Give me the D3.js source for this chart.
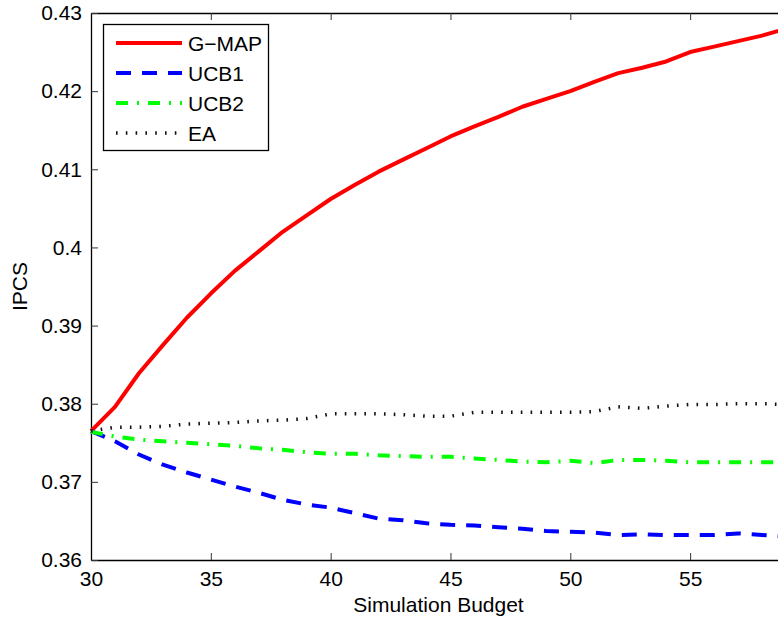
<!DOCTYPE html>
<html><head><meta charset="utf-8">
<script src="https://cdn.jsdelivr.net/npm/d3@7/dist/d3.min.js"></script>
<style>
html,body{margin:0;padding:0;background:#fff;}
svg{display:block;font-family:"Liberation Sans",Arial,Helvetica,sans-serif;}
</style></head>
<body>
<svg id="chart" width="778" height="619"></svg>
<script>
const budget = d3.range(30, 60); // 30..59
const gmap = [0.3765,0.3796,0.3839,0.3875,0.3910,0.3941,0.3970,0.3995,0.4020,0.4041,0.4062,0.4080,0.4097,0.4112,0.4127,0.4142,0.4155,0.4167,0.4180,0.4190,0.4200,0.4212,0.4223,0.4230,0.4238,0.4250,0.4257,0.4264,0.4271,0.4280];
const ucb1 = [0.3765,0.3752,0.3735,0.3722,0.3712,0.3703,0.3694,0.3686,0.3677,0.3671,0.3667,0.3660,0.3653,0.3651,0.3647,0.3645,0.3644,0.3642,0.3640,0.3637,0.3636,0.3635,0.3632,0.3633,0.3632,0.3632,0.3632,0.3634,0.3632,0.3630];
const ucb2 = [0.3764,0.3758,0.3754,0.3752,0.3750,0.3748,0.3746,0.3743,0.3741,0.3738,0.3736,0.3736,0.3734,0.3733,0.3732,0.3732,0.3730,0.3728,0.3726,0.3725,0.3727,0.3724,0.3728,0.3728,0.3727,0.3725,0.3725,0.3725,0.3725,0.3725];
const ea   = [0.3765,0.3770,0.3770,0.3771,0.3774,0.3775,0.3776,0.3778,0.3779,0.3781,0.3787,0.3787,0.3787,0.3786,0.3784,0.3784,0.3789,0.3789,0.3789,0.3789,0.3789,0.3790,0.3796,0.3794,0.3797,0.3799,0.3799,0.3800,0.3800,0.3799];
const seriesNames = ["G\u2212MAP","UCB1","UCB2","EA"];
const xTicks = [30,35,40,45,50,55];
const yTicks = [0.36,0.37,0.38,0.39,0.40,0.41,0.42,0.43];
const yTickLabels = ["0.36","0.37","0.38","0.39","0.4","0.41","0.42","0.43"];

const styles = [
  {color:"#ff0000", width:4, dash:null},
  {color:"#0000ff", width:4, dash:"15,11"},
  {color:"#00ff00", width:4, dash:"12,9,2,9"},
  {color:"#111111", width:3.5, dash:"1.6,8.2"}
];
const allSeries = [gmap, ucb1, ucb2, ea];

const svg = d3.select("#chart");
const L = 91, T = 13, R = 786, B = 560;
const x = d3.scaleLinear().domain([30,59]).range([L,R]);
const y = d3.scaleLinear().domain([0.36,0.43]).range([B,T]);
const fs = 21;

const xAxisB = d3.axisBottom(x).tickValues(xTicks).tickSizeInner(-7).tickSizeOuter(0).tickPadding(11).tickFormat(d3.format("d"));
const xAxisT = d3.axisTop(x).tickValues(xTicks).tickSizeInner(-7).tickSizeOuter(0).tickFormat("");
const yAxisL = d3.axisLeft(y).tickValues(yTicks).tickSizeInner(-7).tickSizeOuter(0).tickPadding(9).tickFormat((d,i)=>yTickLabels[i]);
const yAxisR = d3.axisRight(y).tickValues(yTicks).tickSizeInner(-7).tickSizeOuter(0).tickFormat("");

function styleAxis(g){
  g.selectAll(".domain").attr("stroke","#000").attr("stroke-width",1.3);
  g.selectAll(".tick line").attr("stroke","#333").attr("stroke-width",1);
  g.selectAll(".tick text").attr("font-size",fs).attr("fill","#000").attr("font-family","Liberation Sans, Arial, sans-serif");
}
svg.append("g").attr("transform",`translate(0,${B})`).call(xAxisB).call(styleAxis);
svg.append("g").attr("transform",`translate(0,${T})`).call(xAxisT).call(styleAxis);
svg.append("g").attr("transform",`translate(${L},0)`).call(yAxisL).call(styleAxis);
svg.append("g").attr("transform",`translate(${R},0)`).call(yAxisR).call(styleAxis);

const line = d3.line().x((d,i)=>x(budget[i])).y(d=>y(d));
allSeries.forEach((s,k)=>{
  const p = svg.append("path").datum(s).attr("d",line)
    .attr("fill","none").attr("stroke",styles[k].color).attr("stroke-width",styles[k].width)
    .attr("stroke-linejoin","round");
  if(styles[k].dash) p.attr("stroke-dasharray",styles[k].dash);
});

svg.append("text").attr("x",(L+R)/2).attr("y",612).attr("text-anchor","middle")
  .attr("font-size",fs).text("Simulation Budget");
svg.append("text").attr("transform",`translate(27,${(T+B)/2}) rotate(-90)`).attr("text-anchor","middle")
  .attr("font-size",fs).text("IPCS");

const lg = svg.append("g");
lg.append("rect").attr("x",103.5).attr("y",24.5).attr("width",165).attr("height",126)
  .attr("fill","#fff").attr("stroke","#000").attr("stroke-width",1.3);
seriesNames.forEach((n,k)=>{
  const yy = 43 + k*30;
  const l = lg.append("line").attr("x1",116).attr("x2",182).attr("y1",yy).attr("y2",yy)
    .attr("stroke",styles[k].color).attr("stroke-width",styles[k].width);
  if(styles[k].dash) l.attr("stroke-dasharray",styles[k].dash);
  lg.append("text").attr("x",188).attr("y",yy+7.5).attr("font-size",fs).text(n);
});
</script>
</body></html>
